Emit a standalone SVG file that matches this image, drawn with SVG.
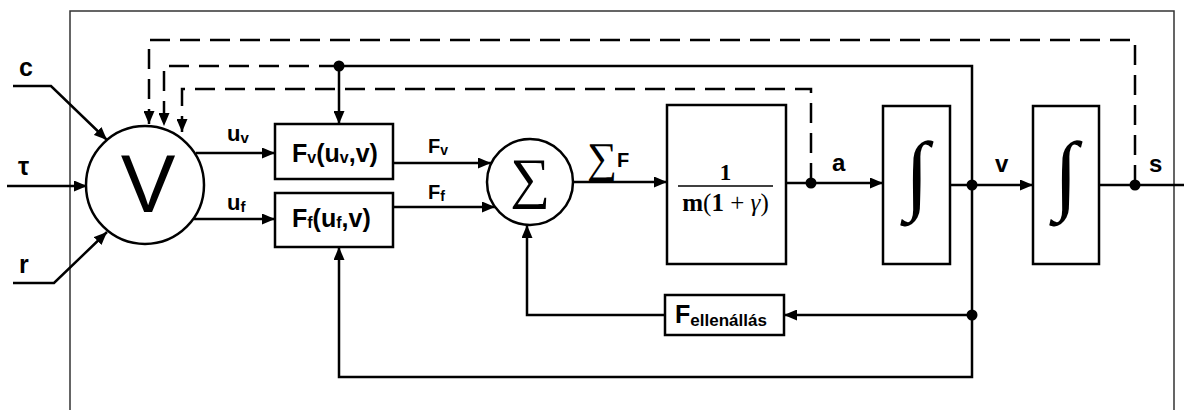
<svg xmlns="http://www.w3.org/2000/svg" width="1184" height="410" viewBox="0 0 1184 410">
<defs>
<marker id="arr" markerWidth="13" markerHeight="11" refX="13" refY="5.5" orient="auto" markerUnits="userSpaceOnUse">
<path d="M0,0 L13,5.5 L0,11 z" fill="#000"/>
</marker>
<style>
.box{fill:#fff;stroke:#000;stroke-width:2.5}
.ln{fill:none;stroke:#000;stroke-width:2.5}
.dash{fill:none;stroke:#000;stroke-width:2.5;stroke-dasharray:20 10}
.dot{fill:#000}
.lb{font-family:"Liberation Sans",Arial,sans-serif;font-weight:bold;fill:#000}
.sr{font-family:"Liberation Serif","Times New Roman",serif;fill:#000}
</style>
</defs>
<rect width="1184" height="410" fill="#fff"/>
<g id="frame"><path d="M70,410 V11 H1174 V410" fill="none" stroke="#333" stroke-width="1.5"/></g>

<g id="connectors">
<path class="ln" d="M13,86 H51 L107,140" marker-end="url(#arr)"/>
<path class="ln" d="M7,186 H87" marker-end="url(#arr)"/>
<path class="ln" d="M13,283 H54 L107,232" marker-end="url(#arr)"/>
<path class="ln" d="M196,153 H275" marker-end="url(#arr)"/>
<path class="ln" d="M194,219 H275" marker-end="url(#arr)"/>
<path class="ln" d="M393,163 H491" marker-end="url(#arr)"/>
<path class="ln" d="M393,207 H495" marker-end="url(#arr)"/>
<path class="ln" d="M573,182 H667" marker-end="url(#arr)"/>
<path class="ln" d="M786,183 H883" marker-end="url(#arr)"/>
<path class="ln" d="M950,185 H1033" marker-end="url(#arr)"/>
<path class="ln" d="M1099,185 H1184"/>
<path class="ln" d="M972,185 V66 H339 V124" marker-end="url(#arr)"/>
<path class="dash" d="M339,66 H164 V126" marker-end="url(#arr)"/>
<path class="dash" d="M811,183 V89 H182 V132" marker-end="url(#arr)"/>
<path class="dash" d="M1135,185 V40 H149 V124" marker-end="url(#arr)"/>
<path class="ln" d="M972,185 V377 H339 V247" marker-end="url(#arr)"/>
<path class="ln" d="M972,315 H784" marker-end="url(#arr)"/>
<path class="ln" d="M665,315 H527 V225" marker-end="url(#arr)"/>
</g>

<g id="dots">
<circle class="dot" cx="339" cy="66" r="5.5"/>
<circle class="dot" cx="811" cy="183" r="5.5"/>
<circle class="dot" cx="972" cy="185" r="5.5"/>
<circle class="dot" cx="972" cy="315" r="5.5"/>
<circle class="dot" cx="1135" cy="185" r="5.5"/>
</g>

<g id="inputs">
<text class="lb" x="19" y="76" font-size="25">c</text>
<text class="lb" x="18" y="175" font-size="25">τ</text>
<text class="lb" x="19" y="273" font-size="25">r</text>
</g>

<g id="node-V">
<circle cx="145" cy="185" r="59" fill="#fff" stroke="#000" stroke-width="2.5"/>
<text x="148" y="212" font-family="Liberation Sans,Arial,sans-serif" font-size="82" text-anchor="middle">V</text>
</g>

<g id="label-u">
<text class="lb" x="227" y="141" font-size="22">u<tspan font-size="15" dy="2">v</tspan></text>
<text class="lb" x="227" y="210" font-size="22">u<tspan font-size="15" dy="2">f</tspan></text>
</g>

<g id="node-Fv">
<rect class="box" x="275" y="124" width="118" height="55"/>
<text class="lb" x="292" y="162" font-size="25">F<tspan font-size="16" dy="1">v</tspan><tspan dy="-1">(u</tspan><tspan font-size="16" dy="1">v</tspan><tspan dy="-1">,v)</tspan></text>
</g>

<g id="node-Ff">
<rect class="box" x="275" y="193" width="118" height="54"/>
<text class="lb" x="292" y="227" font-size="25">F<tspan font-size="16" dy="1">f</tspan><tspan dy="-1">(u</tspan><tspan font-size="16" dy="1">f</tspan><tspan dy="-1">,v)</tspan></text>
</g>

<g id="label-F">
<text class="lb" x="428" y="153" font-size="20">F<tspan font-size="14" dy="2">v</tspan></text>
<text class="lb" x="428" y="199" font-size="20">F<tspan font-size="14" dy="2">f</tspan></text>
</g>

<g id="node-sum">
<circle cx="530" cy="182" r="43" fill="#fff" stroke="#000" stroke-width="2.5"/>
<text class="sr" x="530" y="197" font-size="56" text-anchor="middle">∑</text>
</g>

<g id="label-sumF">
<text class="sr" x="587" y="172" font-size="42">∑</text>
<text class="lb" x="617" y="167" font-size="20">F</text>
</g>

<g id="node-mass">
<rect class="box" x="667" y="105" width="119" height="159"/>
<text class="sr" x="725.5" y="180" font-size="23" font-weight="bold" text-anchor="middle">1</text>
<line x1="678" y1="186" x2="773" y2="186" stroke="#000" stroke-width="1.5"/>
<text class="sr" x="725.5" y="211" font-size="25" text-anchor="middle"><tspan font-weight="bold">m</tspan>(<tspan font-weight="bold">1</tspan> + <tspan font-style="italic">γ</tspan>)</text>
</g>

<g id="label-a"><text class="lb" x="832" y="171" font-size="24">a</text></g>

<g id="node-int1">
<rect class="box" x="883" y="106" width="67" height="158"/>
<text class="sr" x="917" y="203" font-size="88" font-weight="bold" text-anchor="middle">∫</text>
</g>

<g id="label-v"><text class="lb" x="995" y="172" font-size="24">v</text></g>

<g id="node-int2">
<rect class="box" x="1033" y="106" width="66" height="158"/>
<text class="sr" x="1066" y="203" font-size="88" font-weight="bold" text-anchor="middle">∫</text>
</g>

<g id="label-s"><text class="lb" x="1149" y="172" font-size="24">s</text></g>

<g id="node-Fellenallas">
<rect class="box" x="665" y="295" width="119" height="40"/>
<text class="lb" x="675" y="323" font-size="25">F<tspan font-size="17" dy="3">ellenállás</tspan></text>
</g>
</svg>
